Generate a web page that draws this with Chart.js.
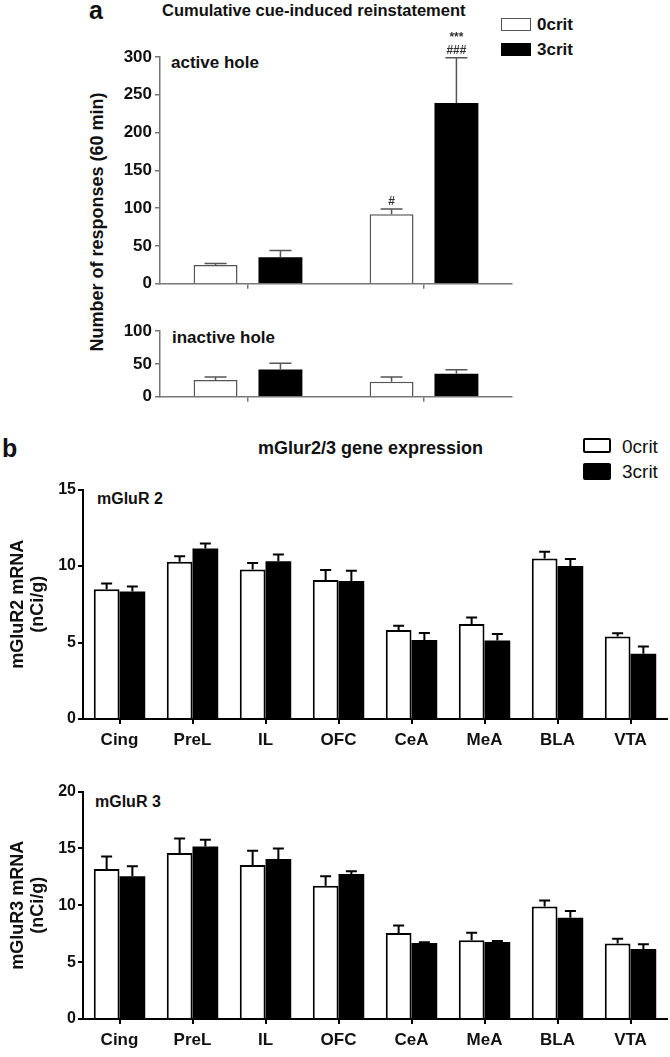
<!DOCTYPE html>
<html>
<head>
<meta charset="utf-8">
<script src="https://cdn.jsdelivr.net/npm/chart.js@4.4.1/dist/chart.umd.min.js"></script>
<style>
  body { margin: 0; background: #fff; }
  #page { position: relative; width: 670px; height: 1057px; overflow: hidden;
    font-family: "Liberation Sans", Arial, sans-serif; color: #111; }
  canvas { position: absolute; }
  .txt { position: absolute; white-space: nowrap; line-height: 1; }
  .b { font-weight: bold; }
  .box { position: absolute; box-sizing: border-box; }
</style>
</head>
<body>
<div id="page">
  <div class="txt b" style="left:89px;top:-2px;font-size:25px;">a</div>
  <div class="txt b" style="left:162px;top:2px;font-size:16.5px;">Cumulative cue-induced reinstatement</div>
  <div class="box" style="left:501px;top:18px;width:30px;height:13px;border:1.5px solid #555;background:#fff;"></div>
  <div class="txt b" style="left:537px;top:16px;font-size:17px;">0crit</div>
  <div class="box" style="left:501px;top:43px;width:30px;height:13px;background:#000;"></div>
  <div class="txt b" style="left:537px;top:41px;font-size:17px;">3crit</div>
  <div class="txt b" style="left:97px;top:222px;font-size:18px;transform:translate(-50%,-50%) rotate(-90deg);">Number of responses (60 min)</div>
  <div class="txt b" style="left:171px;top:54px;font-size:17px;">active hole</div>
  <div class="txt b" style="left:172px;top:329px;font-size:17px;">inactive hole</div>

  <div class="txt b" style="left:2px;top:436px;font-size:25px;">b</div>
  <div class="txt b" style="left:258px;top:439px;font-size:18px;">mGlur2/3 gene expression</div>
  <div class="box" style="left:583px;top:438px;width:28px;height:15px;border:2.5px solid #000;border-radius:2px;background:#fff;"></div>
  <div class="txt" style="left:622px;top:437px;font-size:19px;">0crit</div>
  <div class="box" style="left:583px;top:463px;width:28px;height:17px;border-radius:2px;background:#000;"></div>
  <div class="txt" style="left:622px;top:462px;font-size:19px;">3crit</div>
  <div class="txt b" style="left:97px;top:491px;font-size:16px;">mGluR 2</div>
  <div class="txt b" style="left:95px;top:794px;font-size:16px;">mGluR 3</div>

  <canvas id="chartA1" width="420" height="272" style="left:100px;top:25px;"></canvas>
  <canvas id="chartA2" width="420" height="95" style="left:100px;top:315px;"></canvas>
  <canvas id="chartB2" width="670" height="276" style="left:0px;top:478px;"></canvas>
  <canvas id="chartB3" width="670" height="277" style="left:0px;top:780px;"></canvas>
</div>
<script>
// panel a: cue-induced reinstatement (two groups, unlabelled on the x axis)
const cueGroups = ['group 1', 'group 2'];
const activeMean0 = [25, 92];
const activeErr0 = [2, 7];
const activeMean3 = [35, 239];
const activeErr3 = [9, 60];
const activeMarks0 = ['', '#'];
const activeMarks3 = ['', '***|###'];
const inactiveMean0 = [25.5, 23];
const inactiveErr0 = [4.5, 7];
const inactiveMean3 = [41.5, 35];
const inactiveErr3 = [9.5, 6];
const activeTicks = [0, 50, 100, 150, 200, 250, 300];
const inactiveTicks = [0, 50, 100];

// panel b: mGluR2 / mGluR3 mRNA per region
const regions = ['Cing', 'PreL', 'IL', 'OFC', 'CeA', 'MeA', 'BLA', 'VTA'];
const glur2Mean0 = [8.49, 10.28, 9.78, 9.09, 5.82, 6.21, 10.5, 5.39];
const glur2Err0 = [0.37, 0.37, 0.42, 0.65, 0.28, 0.43, 0.43, 0.21];
const glur2Mean3 = [8.33, 11.15, 10.32, 9.03, 5.17, 5.13, 10.0, 4.26];
const glur2Err3 = [0.33, 0.32, 0.44, 0.67, 0.46, 0.43, 0.47, 0.48];
const glur3Mean0 = [13.19, 14.6, 13.54, 11.73, 7.56, 6.92, 9.9, 6.63];
const glur3Err0 = [1.11, 1.28, 1.26, 0.82, 0.67, 0.67, 0.52, 0.43];
const glur3Mean3 = [12.55, 15.18, 14.07, 12.76, 6.68, 6.77, 8.9, 6.16];
const glur3Err3 = [0.88, 0.58, 0.93, 0.23, 0.07, 0.08, 0.59, 0.41];
const glur2Ticks = [0, 5, 10, 15];
const glur3Ticks = [0, 5, 10, 15, 20];

const FONT = '"Liberation Sans", Arial, sans-serif';

// upward-only error bars plus the significance marks above them
const errorBars = {
  id: 'errorBars',
  afterDatasetsDraw(chart, args, opts) {
    const { ctx } = chart;
    const yScale = chart.scales.y;
    chart.data.datasets.forEach((ds, i) => {
      const meta = chart.getDatasetMeta(i);
      meta.data.forEach((bar, j) => {
        const top = yScale.getPixelForValue(ds.data[j] + ds.errors[j]);
        ctx.save();
        ctx.strokeStyle = opts.color;
        ctx.lineWidth = opts.width;
        ctx.beginPath();
        ctx.moveTo(bar.x, bar.y);
        ctx.lineTo(bar.x, top);
        ctx.moveTo(bar.x - opts.cap / 2, top);
        ctx.lineTo(bar.x + opts.cap / 2, top);
        ctx.stroke();
        if (ds.marks && ds.marks[j]) {
          ctx.fillStyle = '#333';
          ctx.font = 'bold 12px ' + FONT;
          ctx.textAlign = 'center';
          ctx.textBaseline = 'alphabetic';
          const lines = ds.marks[j].split('|').reverse();
          lines.forEach((t, k) => ctx.fillText(t, bar.x, top - 4 - k * 13));
        }
        ctx.restore();
      });
    });
  },
};

function fixedTicks(values) {
  return (scale) => { scale.ticks = values.map(v => ({ value: v })); };
}

function panelA(id, mean0, err0, mean3, err3, ticks, max, padTop, marks0, marks3) {
  const axisColor = '#777';
  return new Chart(document.getElementById(id), {
    type: 'bar',
    data: {
      labels: cueGroups,
      datasets: [
        { label: '0crit', data: mean0, errors: err0, marks: marks0,
          backgroundColor: '#fff', borderColor: '#555', borderWidth: 1.5 },
        { label: '3crit', data: mean3, errors: err3, marks: marks3,
          backgroundColor: '#000', borderColor: '#000', borderWidth: 0 },
      ],
    },
    options: {
      responsive: false,
      animation: false,
      events: [],
      layout: { padding: { top: padTop, right: 8, left: 0, bottom: 0 } },
      categoryPercentage: 0.737,
      barPercentage: 0.677,
      plugins: {
        legend: { display: false },
        tooltip: { enabled: false },
        errorBars: { color: '#555', width: 1.5, cap: 22 },
      },
      scales: {
        x: {
          ticks: { display: false },
          grid: { display: true, drawOnChartArea: false, offset: false, tickLength: 5,
            color: axisColor, lineWidth: 1.5 },
          border: { color: axisColor, width: 1.5 },
          afterFit: (s) => { s.height = 10; },
        },
        y: {
          min: 0,
          max,
          afterBuildTicks: fixedTicks(ticks),
          ticks: { color: '#111', padding: 3, font: { family: FONT, size: 17, weight: 'bold' } },
          grid: { display: true, drawOnChartArea: false, tickLength: 5, color: axisColor, lineWidth: 1.5 },
          border: { color: axisColor, width: 1.5 },
          afterFit: (s) => { s.width = 60; },
        },
      },
    },
    plugins: [errorBars],
  });
}

function panelB(id, mean0, err0, mean3, err3, ticks, max, padTop, xHeight, title) {
  return new Chart(document.getElementById(id), {
    type: 'bar',
    data: {
      labels: regions,
      datasets: [
        { label: '0crit', data: mean0, errors: err0,
          backgroundColor: '#fff', borderColor: '#000', borderWidth: 2 },
        { label: '3crit', data: mean3, errors: err3,
          backgroundColor: '#000', borderColor: '#000', borderWidth: 0 },
      ],
    },
    options: {
      responsive: false,
      animation: false,
      events: [],
      layout: { padding: { top: padTop, right: 3, left: 0, bottom: 0 } },
      categoryPercentage: 0.705,
      barPercentage: 1.0,
      plugins: {
        legend: { display: false },
        tooltip: { enabled: false },
        errorBars: { color: '#000', width: 2, cap: 11 },
      },
      scales: {
        x: {
          ticks: { color: '#111', padding: 6, font: { family: FONT, size: 17, weight: 'bold' } },
          grid: { display: true, drawOnChartArea: false, offset: false, tickLength: 5,
            color: '#000', lineWidth: 2 },
          border: { color: '#000', width: 2 },
          afterFit: (s) => { s.height = xHeight; },
        },
        y: {
          min: 0,
          max,
          afterBuildTicks: fixedTicks(ticks),
          ticks: { color: '#111', padding: 2, font: { family: FONT, size: 16, weight: 'bold' } },
          grid: { display: true, drawOnChartArea: false, tickLength: 5, color: '#000', lineWidth: 2 },
          border: { color: '#000', width: 2 },
          title: { display: true, text: title, color: '#111', padding: { top: 8, bottom: 0 },
            font: { family: FONT, size: 18, weight: 'bold', lineHeight: 1.1 } },
          afterFit: (s) => { s.width = 83; },
        },
      },
    },
    plugins: [errorBars],
  });
}

panelA('chartA1', activeMean0, activeErr0, activeMean3, activeErr3, activeTicks, 300, 32,
  activeMarks0, activeMarks3);
panelA('chartA2', inactiveMean0, inactiveErr0, inactiveMean3, inactiveErr3, inactiveTicks, 100, 16,
  null, null);
panelB('chartB2', glur2Mean0, glur2Err0, glur2Mean3, glur2Err3, glur2Ticks, 15, 10, 35,
  ['mGluR2 mRNA', '(nCi/g)']);
panelB('chartB3', glur3Mean0, glur3Err0, glur3Mean3, glur3Err3, glur3Ticks, 20, 11, 38,
  ['mGluR3 mRNA', '(nCi/g)']);
</script>
</body>
</html>
